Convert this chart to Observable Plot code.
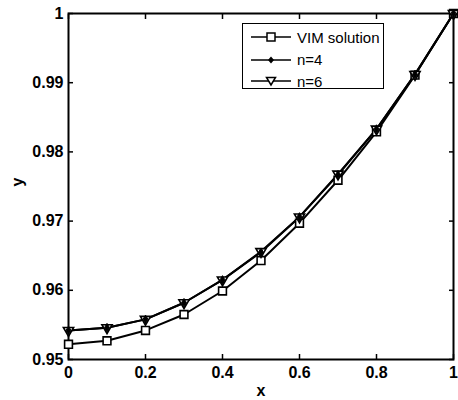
<!DOCTYPE html>
<html>
<head>
<meta charset="utf-8">
<script src="https://cdn.jsdelivr.net/npm/d3@7"></script>
<script src="https://cdn.jsdelivr.net/npm/@observablehq/plot@0.6"></script>
<style>
  body { margin: 0; background: #fff; }
  #wrap { position: relative; width: 458px; height: 400px; overflow: hidden; }
  #legend {
    position: absolute; left: 242px; top: 23px; width: 140px; height: 64px;
    border: 1.5px solid #000; background: #fff;
    font-family: "Liberation Sans", Arial, Helvetica, sans-serif; font-size: 15px; color: #000;
  }
  .entry { position: absolute; left: 0; height: 20px; display: flex; align-items: center; }
  .entry svg { margin-left: 8px; }
  .entry span { margin-left: 5px; }
</style>
</head>
<body>
<div id="wrap"></div>
<script>
const xs = [0, 0.1, 0.2, 0.3, 0.4, 0.5, 0.6, 0.7, 0.8, 0.9, 1.0];
const vim = [0.9522, 0.9527, 0.9542, 0.9565, 0.9599, 0.9643, 0.9697, 0.9759, 0.9829, 0.9911, 1.0];
const n4  = [0.9542, 0.9546, 0.9558, 0.9582, 0.9615, 0.9655, 0.9706, 0.9767, 0.9833, 0.9912, 1.0];
const n6  = [0.9542, 0.9546, 0.9558, 0.9582, 0.9615, 0.9656, 0.9706, 0.9768, 0.9833, 0.9912, 1.0];
const xTicks = [0, 0.2, 0.4, 0.6, 0.8, 1];
const yTicks = [0.95, 0.96, 0.97, 0.98, 0.99, 1];
const seriesNames = ["VIM solution", "n=4", "n=6"];

const rows = (ys) => xs.map((x, i) => ({x, y: ys[i]}));
const fmt = d => String(+d.toFixed(2));

const chart = Plot.plot({
  width: 458, height: 400,
  marginLeft: 68, marginRight: 5, marginTop: 13, marginBottom: 41,
  style: {fontFamily: "'Liberation Sans', Arial, Helvetica, sans-serif", fontSize: "16px", fontWeight: "bold", color: "#000", background: "#fff"},
  x: {domain: [0, 1]},
  y: {domain: [0.95, 1]},
  marks: [
    Plot.axisX(xTicks, {anchor: "bottom", tickSize: -5, tickPadding: 12, tickFormat: fmt, label: null, strokeWidth: 1.5}),
    Plot.axisX(xTicks, {anchor: "top", tickSize: -5, tickFormat: () => "", label: null, strokeWidth: 1.5}),
    Plot.axisY(yTicks, {anchor: "left", tickSize: -5, tickPadding: 10, tickFormat: fmt, label: null, strokeWidth: 1.5}),
    Plot.axisY(yTicks, {anchor: "right", tickSize: -5, tickFormat: () => "", label: null, strokeWidth: 1.5}),
    Plot.frame({stroke: "#000", strokeWidth: 2}),
    Plot.line(rows(vim), {x: "x", y: "y", stroke: "#000", strokeWidth: 2}),
    Plot.line(rows(n6), {x: "x", y: "y", stroke: "#000", strokeWidth: 2}),
    Plot.line(rows(n4), {x: "x", y: "y", stroke: "#000", strokeWidth: 2}),
    Plot.dot(rows(vim), {x: "x", y: "y", symbol: "square", r: 4.4, fill: "#fff", stroke: "#000", strokeWidth: 1.6}),
    Plot.dot(rows(n6), {x: "x", y: "y", symbol: "triangle", rotate: 180, r: 3.8, fill: "#fff", stroke: "#000", strokeWidth: 1.6}),
    Plot.dot(rows(n4), {x: "x", y: "y", symbol: "diamond", r: 2.6, fill: "#000", stroke: "#000", strokeWidth: 1}),
    Plot.text(["x"], {frameAnchor: "bottom", dy: 36, fontSize: 16, fontWeight: "bold"}),
    Plot.text(["y"], {frameAnchor: "left", dx: -51, rotate: -90, fontSize: 16, fontWeight: "bold"})
  ]
});
const wrap = document.getElementById("wrap");
wrap.appendChild(chart);

// legend
const legend = document.createElement("div");
legend.id = "legend";
const icons = [
  '<line x1="0" y1="8" x2="40" y2="8" stroke="#000" stroke-width="1.5"/><rect x="16" y="4" width="8" height="8" fill="#fff" stroke="#000" stroke-width="1.5"/>',
  '<line x1="0" y1="8" x2="40" y2="8" stroke="#000" stroke-width="1.5"/><path d="M20,4.5L23,8L20,11.5L17,8Z" fill="#000"/>',
  '<line x1="0" y1="8" x2="40" y2="8" stroke="#000" stroke-width="1.5"/><path d="M15.5,4.5L24.5,4.5L20,12Z" fill="#fff" stroke="#000" stroke-width="1.5"/>'
];
const tops = [3, 25.5, 47];
seriesNames.forEach((name, i) => {
  const e = document.createElement("div");
  e.className = "entry";
  e.style.top = tops[i] + "px";
  e.innerHTML = `<svg width="41" height="16">${icons[i]}</svg><span>${name}</span>`;
  legend.appendChild(e);
});
wrap.appendChild(legend);
</script>
</body>
</html>
